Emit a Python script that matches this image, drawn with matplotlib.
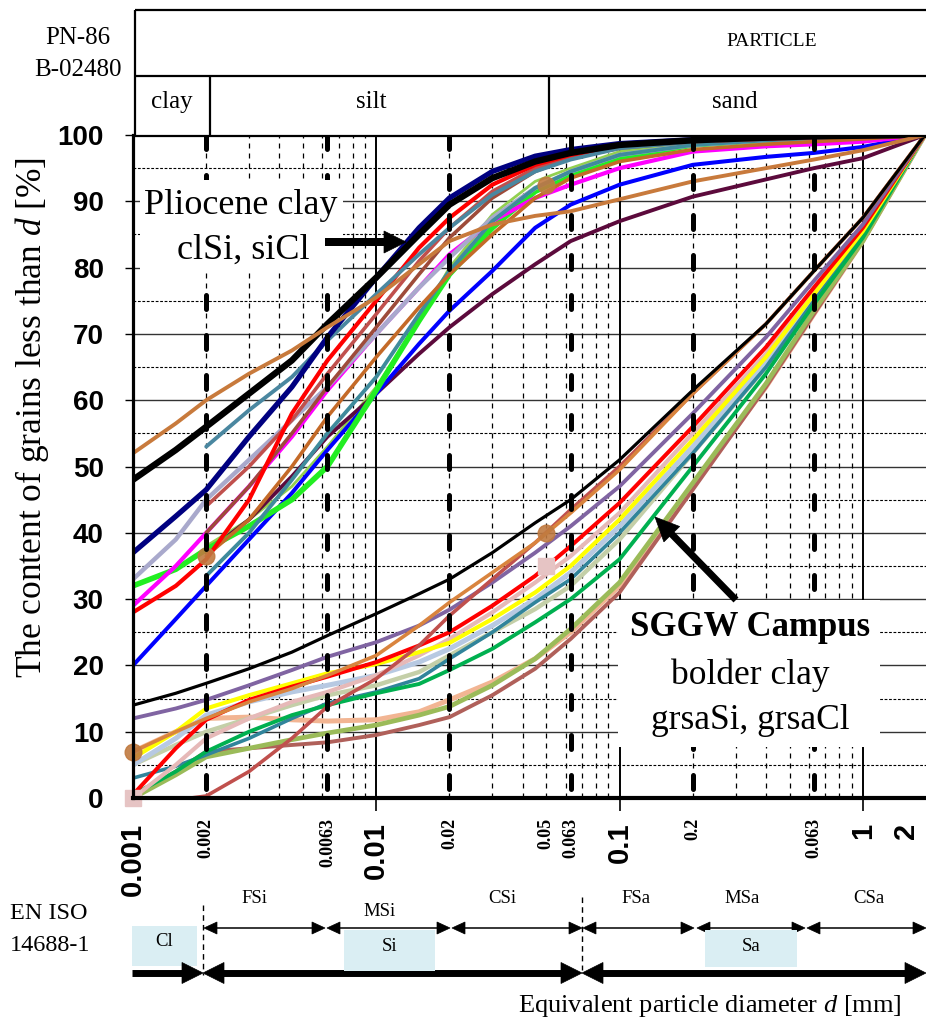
import numpy as np
import matplotlib
matplotlib.use("Agg")
import matplotlib.pyplot as plt
from matplotlib.patches import Rectangle, Polygon
from matplotlib.transforms import blended_transform_factory
from matplotlib.ticker import NullLocator

plt.rcParams['mathtext.fontset'] = 'custom'
plt.rcParams['mathtext.it'] = 'Liberation Serif:italic'
plt.rcParams['mathtext.rm'] = 'Liberation Serif'
plt.rcParams['font.family'] = ['Liberation Serif', 'DejaVu Serif']

SERIF = 'Liberation Serif'
SANS = 'Liberation Sans'
nan = np.nan

# ---------------- data (equivalent diameter [mm], content [%]) ----------------
diam = [0.001, 0.0015, 0.002, 0.003, 0.0045, 0.0063, 0.01, 0.015, 0.02, 0.03,
        0.045, 0.063, 0.1, 0.2, 0.4, 0.63, 1.0, 1.8]

# Pliocene clay (clSi, siCl)
plio_lgreen  = [nan, nan, 38, 42, 47, 53, 62, 72, 80, 88, 93, 95, 97.5, 98.8, 99.3, 99.6, 99.8, 100]
plio_maroon  = [nan, nan, 37, 42, 48.5, 54.5, 61, 67, 71, 76, 80.5, 84, 87, 90.7, 93.3, 95, 96.5, 100]
plio_blue    = [20, 27, 32, 39, 46, 52.5, 61, 68.5, 73.5, 79.5, 86, 89.5, 92.5, 95.5, 96.7, 97.3, 98.2, 100]
plio_lime    = [32, 34.5, 37.5, 41, 45, 50, 61.5, 72, 79, 86, 91.5, 94, 96.5, 98.5, 99.2, 99.5, 99.7, 100]
plio_magenta = [29, 35, 40, 47, 54.5, 61.5, 70, 77, 82, 87, 90.5, 92.5, 95, 97.5, 98.3, 98.6, 99, 100]
plio_lav     = [33, 39, 45, 51, 57, 62, 70, 77, 81.5, 87.5, 92, 94.5, 97, 98.5, 99.2, 99.5, 99.7, 100]
plio_teal2   = [nan, nan, 33.5, 40, 48, 55, 63.5, 73, 79.5, 87, 92, 94.5, 97, 98.5, 99.2, 99.5, 99.7, 100]
plio_peru2   = [nan, nan, 36.5, 42, 50, 57.5, 66.5, 74, 79, 85, 90.5, 93.5, 96, 97.8, 98.6, 99, 99.4, 100]
plio_brown   = [nan, nan, 40, 47, 55, 62, 71, 79, 84.5, 90.5, 94.5, 96.5, 98, 99, 99.4, 99.6, 99.8, 100]
plio_rosy    = [nan, nan, 44, 50, 57, 64, 73, 81, 86, 91.5, 95, 96.8, 98.2, 99, 99.4, 99.6, 99.8, 100]
plio_red     = [28, 32, 36, 45, 58, 66, 75, 83, 87.5, 92.5, 95.5, 97, 98.3, 99.2, 99.5, 99.7, 99.8, 100]
plio_teal    = [nan, nan, 53, 58.5, 63.5, 69, 76, 82, 86, 91, 94.5, 96.3, 98, 99, 99.5, 99.7, 99.8, 100]
plio_navy    = [37, 42.5, 46.5, 54.5, 62, 69.5, 78.5, 86, 90.5, 94.5, 96.8, 97.8, 98.7, 99.3, 99.6, 99.8, 99.9, 100]
plio_black   = [48, 52.5, 56, 61, 66, 71.5, 78.5, 85, 89.5, 93.5, 96, 97.3, 98.5, 99.2, 99.6, 99.8, 99.9, 100]
plio_peru    = [52, 56.5, 60, 64, 67.5, 71, 75.5, 80.5, 84, 86.5, 87.8, 88.5, 90.3, 93, 95, 96.3, 97.7, 100]

# SGGW Campus boulder clay (grsaSi, grsaCl)
sggw_salmon    = [7, 10, 12, 12.2, 11.8, 11.6, 11.8, 13, 14.8, 17.5, 21, 25, 32, 47, 62, 73, 84, 100]
sggw_rosy      = [0, 4, 7, 7.5, 8, 8.4, 9.5, 11, 12.2, 15.5, 19.5, 24, 31, 46.5, 62, 73, 84, 100]
sggw_olive     = [0, 3.5, 6.2, 7.5, 8.8, 9.8, 11, 12.5, 13.8, 17, 21, 25.5, 32.5, 47.5, 62.5, 73.5, 84, 100]
sggw_graygreen = [5, 8, 10, 12, 14, 15.5, 17, 19, 21.5, 25, 28.5, 32, 39, 52, 65, 75, 85, 100]
sggw_lightblue = [5, 9, 12.5, 14.5, 16, 17, 18.5, 20.5, 22.5, 26, 30, 34, 41, 53, 66, 75.5, 85, 100]
sggw_teal      = [3, 4.8, 6.5, 9, 12, 14.3, 16, 18, 21, 25, 29.5, 33, 40, 52, 65, 75, 85, 100]
sggw_green     = [0.5, 4, 7, 10, 12.5, 14, 15.8, 17.2, 19.3, 22.5, 26.5, 30, 36, 50, 64, 74.5, 84.5, 100]
sggw_pink      = [0, 5, 9, 12, 14.5, 16, 18.5, 21.5, 24, 28, 32.5, 36.5, 43, 55, 67, 76.5, 86, 100]
sggw_yellow    = [6, 10, 13.5, 15.5, 17.3, 18.8, 20.2, 22, 23.4, 27, 31, 35, 42, 54, 66.5, 76, 85.5, 100]
sggw_red       = [0.5, 7.5, 11.8, 14.8, 16.8, 18.3, 20.5, 23, 25, 29, 33.5, 38, 44.5, 56, 68, 77, 86, 100]
sggw_purple    = [12, 13.5, 14.8, 17, 19.3, 21.3, 23.5, 26, 28.4, 32.5, 37, 41, 47, 58, 69.5, 78, 86.5, 100]
sggw_indianred = [0, -0.3, 0.3, 4, 9, 13.8, 18, 23, 27.5, 33, 38.5, 43.5, 50, 61, 71.5, 79.5, 87.5, 100]
sggw_peru      = [7, 10, 12, 14.5, 16.5, 18.5, 21.5, 26, 29.5, 34, 38.5, 43, 49.5, 61, 71.5, 79.5, 87.5, 100]
sggw_black     = [14, 15.8, 17.3, 19.5, 22, 24.5, 27.8, 30.8, 33, 37, 41.5, 45, 51, 61.5, 71.5, 79.5, 87.5, 100]

# marked sample points
circle_d = [0.001, 0.05, 0.002, 0.05]
circle_v = [7, 40, 36.5, 92.5]
square_d = [0.001, 0.05]
square_v = [0, 35]

# axes labels / divisions
y_ticks = [0, 10, 20, 30, 40, 50, 60, 70, 80, 90, 100]
x_big_ticks = [0.001, 0.01, 0.1, 1, 2]
x_big_labels = ["0.001", "0.01", "0.1", "1", "2"]
x_small_ticks = [0.002, 0.0063, 0.02, 0.05, 0.063, 0.2, 0.63]
x_small_labels = ["0.002", "0.0063", "0.02", "0.05", "0.063", "0.2", "0.063"]
division_d = [0.002, 0.0063, 0.02, 0.063, 0.2, 0.63]

pn_groups = ["clay", "silt", "sand"]
iso_fractions = ["FSi", "MSi", "CSi", "FSa", "MSa", "CSa"]
iso_main = ["Cl", "Si", "Sa"]

# ---------------- figure ----------------
W, H = 926, 1021
fig = plt.figure(figsize=(W / 100, H / 100), dpi=100)
fig.patch.set_facecolor('white')

x_left, x_right, y_top, y_bot = 133, 936, 135, 798
ax = fig.add_axes([x_left / W, 1 - y_bot / H, (x_right - x_left) / W, (y_bot - y_top) / H])
ax.set_xscale('log')
ax.set_xlim(0.001, 2)
ax.set_ylim(0, 100)

# grid
for v in range(10, 100, 10):
    ax.axhline(v, color='#333333', lw=1.0, zorder=1)
for v in range(5, 100, 10):
    ax.axhline(v, color='k', lw=0.8, ls=(0, (2.5, 1.5)), zorder=1)
for dec in [0.001, 0.01, 0.1, 1]:
    for k in range(2, 10):
        d = dec * k
        if d < 2:
            ax.axvline(d, color='k', lw=0.9, ls=(0, (4, 4)), zorder=1)
for d in [0.01, 0.1, 1]:
    ax.axvline(d, color='k', lw=1.4, zorder=1)

plio_series = [
    (plio_lgreen, '#92d050', 2.0),
    (plio_maroon, '#5c0a3c', 2.8),
    (plio_blue, '#0000ff', 2.9),
    (plio_lime, '#22ee22', 4.0),
    (plio_magenta, '#ff00ff', 3.0),
    (plio_lav, '#a9a9cc', 3.2),
    (plio_teal2, '#3f8b9c', 2.8),
    (plio_peru2, '#c46a28', 2.6),
    (plio_brown, '#9e4b3a', 2.6),
    (plio_rosy, '#c0504d', 2.6),
    (plio_red, '#ff0000', 3.0),
    (plio_teal, '#4a87a0', 2.8),
    (plio_navy, '#000080', 3.8),
    (plio_black, '#000000', 4.6),
    (plio_peru, '#c87a3c', 2.8),
]
sggw_series = [
    (sggw_salmon, '#f2b593', 3.6),
    (sggw_rosy, '#b0605a', 2.8),
    (sggw_olive, '#9bbb59', 3.4),
    (sggw_graygreen, '#c4cfa8', 3.2),
    (sggw_lightblue, '#b7c9e2', 3.6),
    (sggw_teal, '#31849b', 2.6),
    (sggw_green, '#00b050', 2.8),
    (sggw_pink, '#e6b9b8', 3.0),
    (sggw_yellow, '#ffff00', 3.0),
    (sggw_red, '#ff0000', 2.9),
    (sggw_purple, '#8064a2', 2.8),
    (sggw_indianred, '#c0504d', 2.6),
    (sggw_peru, '#d9843e', 2.6),
    (sggw_black, '#000000', 2.3),
]
for vals, col, lw in sggw_series + plio_series:
    ax.plot(diam, vals, color=col, lw=lw, solid_joinstyle='round',
            solid_capstyle='round', zorder=3)

ax.plot(circle_d, circle_v, ls='none', marker='o', ms=12, color='#c07a40',
        alpha=0.9, zorder=3.5, clip_on=False)
ax.plot(square_d, square_v, ls='none', marker='s', ms=12, color='#e6c4c4',
        zorder=3.5, clip_on=False)

# heavy dashed fraction boundaries
for d in division_d:
    ax.plot([d, d], [100, 0], color='k', lw=3.6, ls=(0, (2.8, 5.2)),
            dash_capstyle='round', zorder=4)

# spines / ticks
ax.spines['top'].set_visible(False)
ax.spines['right'].set_visible(False)
ax.spines['left'].set_linewidth(2.3)
ax.spines['bottom'].set_linewidth(3.0)
ax.spines['left'].set_zorder(5)
ax.spines['bottom'].set_zorder(5)
ax.set_yticks(y_ticks)
ax.set_yticklabels([str(v) for v in y_ticks])
ax.tick_params(axis='y', length=6, width=1.0, direction='out', pad=15, labelsize=20)
for lab in ax.get_yticklabels():
    lab.set_fontfamily(SANS)
    lab.set_fontweight('bold')
ax.set_xticks([0.01, 0.1, 1])
ax.set_xticklabels(['', '', ''])
ax.xaxis.set_minor_locator(NullLocator())
ax.tick_params(axis='x', which='major', length=9, width=1.2, direction='out')

blend = blended_transform_factory(ax.transData, ax.transAxes)
for d, lab in zip(x_big_ticks, x_big_labels):
    xpos = d if d < 2 else 1.5   # keep the last label inside the picture
    ax.text(xpos, -0.037, lab, transform=blend, rotation=90, ha='center', va='top',
            fontsize=21, family=SANS, weight='bold', clip_on=False)
for d, lab in zip(x_small_ticks, x_small_labels):
    ax.text(d, -0.030, lab, transform=blend, rotation=90, ha='center', va='top',
            fontsize=13, family=SERIF, weight='bold', clip_on=False)

# ---------------- overlay in pixel coordinates ----------------
ov = fig.add_axes([0, 0, 1, 1])
ov.set_xlim(0, W)
ov.set_ylim(H, 0)
ov.axis('off')
ov.patch.set_visible(False)


def seg(x0, y0, x1, y1, lw, **kw):
    ov.plot([x0, x1], [y0, y1], color='k', lw=lw, solid_capstyle='butt', **kw)


def head(tx, ty, ux, uy, length, width):
    px, py = -uy, ux
    pts = [(tx, ty),
           (tx - ux * length + px * width / 2, ty - uy * length + py * width / 2),
           (tx - ux * length - px * width / 2, ty - uy * length - py * width / 2)]
    ov.add_patch(Polygon(pts, closed=True, fc='k', ec='k', lw=0.5, zorder=6))


def arrow(x0, y0, x1, y1, shaft, hl, hw):
    L = np.hypot(x1 - x0, y1 - y0)
    ux, uy = (x1 - x0) / L, (y1 - y0) / L
    seg(x0, y0, x1 - ux * hl * 0.6, y1 - uy * hl * 0.6, shaft * 0.72, zorder=6)
    head(x1, y1, ux, uy, hl, hw)


# header table (PN-86 B-02480)
ov.add_patch(Rectangle((135, 10), W - 135, 126, fc='white', ec='none', zorder=1))
hl_w = 1.6
seg(135, 10, W, 10, hl_w)
seg(135, 76, W, 76, hl_w)
seg(135, 136, W, 136, hl_w)
seg(135, 10, 135, 136, hl_w)
seg(210, 76, 210, 136, hl_w)
seg(549, 76, 549, 136, hl_w)
ov.text(78, 38, "PN-86", ha='center', va='center', fontsize=18)
ov.text(78, 70, "B-02480", ha='center', va='center', fontsize=18)
ov.text(772, 41, "PARTICLE", ha='center', va='center', fontsize=14)
for name, xc in zip(pn_groups, [172, 371, 735]):
    ov.text(xc, 102, name, ha='center', va='center', fontsize=18)

# annotations inside plot
ov.add_patch(Rectangle((140, 180), 203, 92, fc='white', ec='none', zorder=4))
ov.text(241, 205, "Pliocene clay", ha='center', va='center', fontsize=26, zorder=5)
ov.text(243, 250, "clSi, siCl", ha='center', va='center', fontsize=26, zorder=5)
arrow(325, 242, 406, 242, 8, 22, 22)

ov.add_patch(Rectangle((618, 600), 262, 147, fc='white', ec='none', zorder=4))
ov.text(750, 627, "SGGW Campus", ha='center', va='center', fontsize=25,
        weight='bold', zorder=5)
ov.text(750, 675, "bolder clay", ha='center', va='center', fontsize=25.5, zorder=5)
ov.text(750, 720, "grsaSi, grsaCl", ha='center', va='center', fontsize=25.5, zorder=5)
arrow(736, 600, 655, 517, 7, 24, 22)

# axis titles
ov.text(32, 418, "The content of grains less than $\\mathit{d}$ [%]", rotation=90,
        ha='center', va='center', fontsize=25.5)
ov.text(710, 1006, "Equivalent particle diameter $\\mathit{d}$ [mm]",
        ha='center', va='center', fontsize=19)

# EN ISO 14688-1 scale
ov.text(10, 913, "EN ISO", ha='left', va='center', fontsize=17.5)
ov.text(10, 945, "14688-1", ha='left', va='center', fontsize=17.5)

box_col = '#daeef3'
ov.add_patch(Rectangle((132, 926), 65, 40, fc=box_col, ec='none', zorder=2))
ov.add_patch(Rectangle((344, 930), 91, 41, fc=box_col, ec='none', zorder=7))
ov.add_patch(Rectangle((705, 930), 92, 37, fc=box_col, ec='none', zorder=7))
ov.text(164, 941, iso_main[0], ha='center', va='center', fontsize=13.5, zorder=8)
ov.text(390, 946, iso_main[1], ha='center', va='center', fontsize=13.5, zorder=8)
ov.text(751, 946, iso_main[2], ha='center', va='center', fontsize=13.5, zorder=8)

ov.plot([203, 203], [905, 975], color='k', lw=1.0, ls=(0, (4, 3)))
ov.plot([582, 582], [897, 970], color='k', lw=1.0, ls=(0, (4, 3)))

thin_y = 928
thin_segments = [(204, 325), (327, 450), (452, 582), (583, 694), (697, 805), (807, 926)]
label_pos = [(254, 898), (380, 911), (502, 898), (636, 898), (742, 898), (869, 898)]
for (xa, xb), name, (lx, ly) in zip(thin_segments, iso_fractions, label_pos):
    seg(xa + 6, thin_y, xb - 6, thin_y, 1.1)
    head(xa, thin_y, -1, 0, 13, 12)
    head(xb, thin_y, 1, 0, 13, 12)
    ov.text(lx, ly, name, ha='center', va='center', fontsize=13.5)

thick_y = 973
seg(132, thick_y, 192, thick_y, 5.0)
head(203, thick_y, 1, 0, 21, 21)
seg(214, thick_y, 571, thick_y, 5.0)
head(203, thick_y, -1, 0, 21, 21)
head(582, thick_y, 1, 0, 21, 21)
seg(593, thick_y, 915, thick_y, 5.0)
head(582, thick_y, -1, 0, 21, 21)
head(926, thick_y, 1, 0, 21, 21)

fig.savefig("out.png", dpi=100)
